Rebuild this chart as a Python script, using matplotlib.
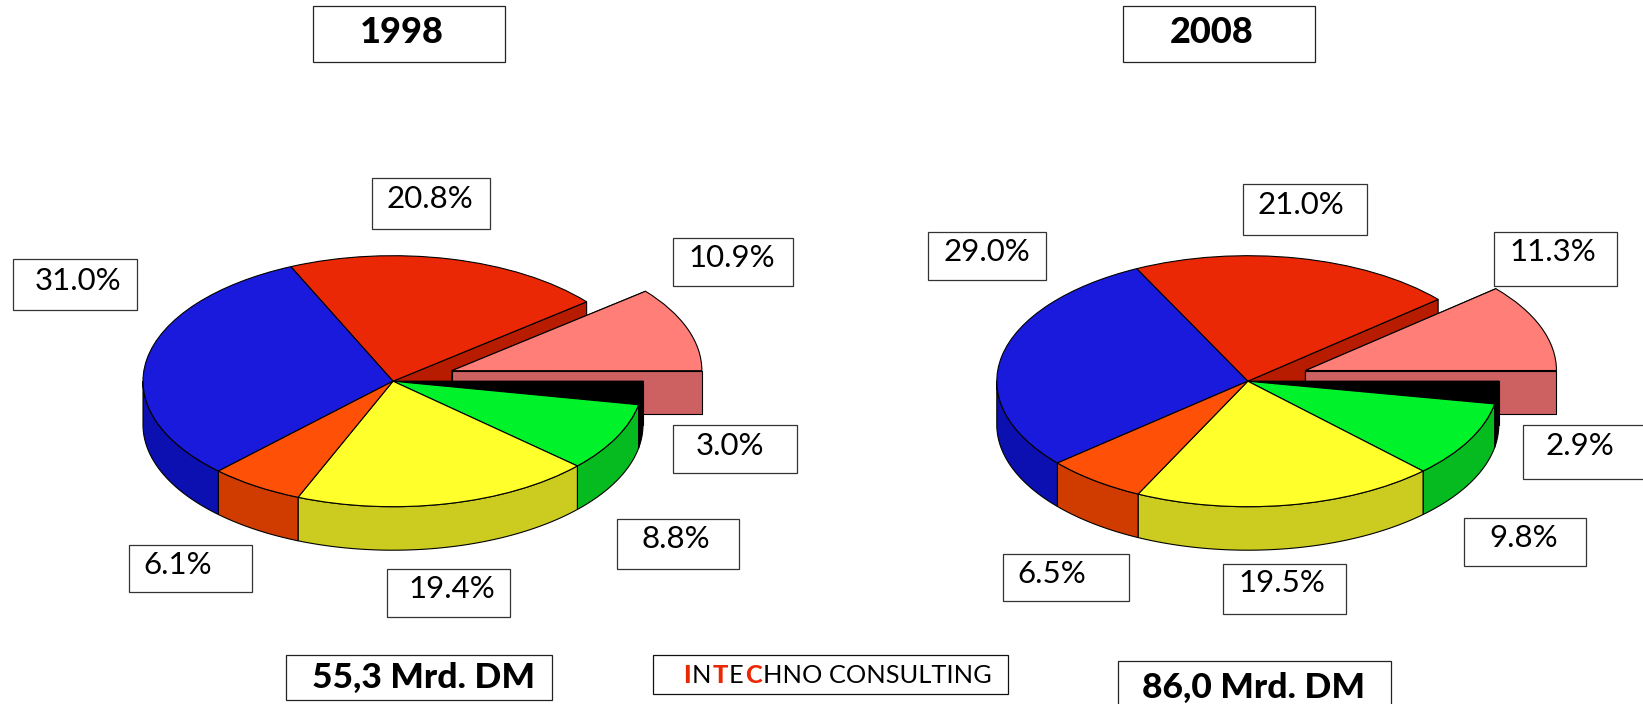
import numpy as np
import matplotlib
matplotlib.use("Agg")
import matplotlib.pyplot as plt
from matplotlib.patches import Polygon, Rectangle

# ---- data ----
segment_order = ["pink", "red", "blue", "orange", "yellow", "green", "black"]
values_1998 = [10.9, 20.8, 31.0, 6.1, 19.4, 8.8, 3.0]
values_2008 = [11.3, 21.0, 29.0, 6.5, 19.5, 9.8, 2.9]
years = ["1998", "2008"]
totals = ["55,3 Mrd. DM", "86,0 Mrd. DM"]
brand_parts = ["I", "N", "T", "E", "C", "HNO CONSULTING"]

# ---- styles ----
top_colors = ["#FF7F78", "#EB2805", "#1A1ADD", "#FF5008", "#FFFF2B", "#00F22B", "#000000"]
side_colors = ["#CD6060", "#B81C00", "#0D10B0", "#D03C00", "#CCCC20", "#05BB1F", "#000000"]
brand_colors = ["#EB2805", "#000000", "#EB2805", "#000000", "#EB2805", "#000000"]
brand_weights = ["black", "normal", "black", "normal", "black", "normal"]
draw_sequence = [1, 2, 0, 6, 5, 4, 3]
FONT = "Lato"
W, H = 1643, 704
EDGE = 0.8

# ---- layout in pixels ----
pies = [
    dict(values=values_1998, cx=393.0, cy=381.2, a=250.0, b=125.5, explode=0.25),
    dict(values=values_2008, cx=1247.8, cy=381.2, a=251.0, b=125.5, explode=0.245),
]
DEPTH_PX = 43.5
TEXT_DY = 2.2
# x0, x1, y0, y1 of the box, text centre x, y  (same order as the values)
label_boxes = [
    [(673, 793, 238.3, 285.6, 732, 256), (371.5, 490, 178.3, 229, 430, 197),
     (13, 137, 259, 309.7, 78.4, 278.3), (128.5, 252, 544.7, 592.4, 178, 562.7),
     (386.5, 510, 568.7, 616.7, 452, 586.7), (616.5, 738.5, 518.7, 568.7, 676, 537),
     (673, 797, 425.4, 473.4, 730, 444)],
    [(1494, 1617, 231.7, 285.7, 1553.3, 250), (1243, 1367, 184.4, 235, 1301.3, 203.3),
     (928.2, 1045.5, 231.7, 279.7, 987, 250), (1002.5, 1129.2, 553.7, 601.3, 1052, 571.7),
     (1222.5, 1346.2, 563.7, 613.7, 1282, 580.7), (1463.5, 1586, 517.7, 565.7, 1524, 536),
     (1523, 1650, 425.4, 479, 1579.6, 444)],
]
year_boxes = [(313, 504.5, 5.7, 62.3, 401.7, 30.7), (1123, 1314.5, 5.7, 62.3, 1211.7, 30.7)]
total_boxes = [(286, 551.5, 655, 700, 423, 675.7), (1118, 1391.3, 660.7, 712, 1254, 686)]
brand_box = (653, 1008, 655, 694)
brand_x0, brand_y = 683, 673

fig = plt.figure(figsize=(W / 100, H / 100), dpi=100, facecolor="white")


def draw_pie(p):
    xlim = (-1.05, 1.35)
    ylim = (-1.45, 1.1)
    left = p["cx"] + xlim[0] * p["a"]
    right = p["cx"] + xlim[1] * p["a"]
    bottom_px = p["cy"] - ylim[0] * p["b"]
    top_px = p["cy"] - ylim[1] * p["b"]
    ax = fig.add_axes([left / W, 1 - bottom_px / H, (right - left) / W, (bottom_px - top_px) / H])
    explode = [p["explode"]] + [0] * (len(p["values"]) - 1)
    wedges, _ = ax.pie(p["values"], colors=top_colors, explode=explode, startangle=0,
                       counterclock=True, radius=1.0,
                       wedgeprops=dict(edgecolor="black", linewidth=EDGE))
    ax.set_aspect("auto")
    ax.set_xlim(*xlim)
    ax.set_ylim(*ylim)
    ax.axis("off")
    d = DEPTH_PX / p["b"]
    n = len(wedges)
    for rank, i in enumerate(draw_sequence):
        w = wedges[i]
        cx, cy = w.center
        z = 2 + rank * 2
        w.set_zorder(z + 1)
        kw = dict(closed=True, facecolor=side_colors[i], edgecolor="black",
                  linewidth=EDGE, zorder=z, joinstyle="round")
        # flat cut walls beside the exploded slice (far one first)
        cuts = []
        if explode[i] or explode[(i + 1) % n]:
            cuts.append(w.theta2)
        if explode[i] or explode[(i - 1) % n]:
            cuts.append(w.theta1)
        for ang in cuts:
            ex, ey = cx + np.cos(np.radians(ang)), cy + np.sin(np.radians(ang))
            ax.add_patch(Polygon([(cx, cy), (ex, ey), (ex, ey - d), (cx, cy - d)], **kw))
        # outer curved wall: only the part that faces the viewer
        t0, t1 = max(w.theta1, 180.0), w.theta2
        if t1 > t0:
            th = np.radians(np.linspace(t0, t1, 80))
            xs = cx + np.cos(th)
            ys = cy + np.sin(th)
            pts = np.r_[np.c_[xs, ys], np.c_[xs[::-1], ys[::-1] - d]]
            ax.add_patch(Polygon(pts, **kw))


for p in pies:
    draw_pie(p)

ov = fig.add_axes([0, 0, 1, 1], facecolor="none")
ov.set_xlim(0, W)
ov.set_ylim(H, 0)
ov.axis("off")


def box(x0, x1, y0, y1, color="#333333"):
    ov.add_patch(Rectangle((x0, y0), x1 - x0, y1 - y0, facecolor="white",
                           edgecolor=color, linewidth=0.9, zorder=20))


for vals, boxes in zip([p["values"] for p in pies], label_boxes):
    for v, (x0, x1, y0, y1, tx, ty) in zip(vals, boxes):
        box(x0, x1, y0, y1)
        ov.text(tx, ty + TEXT_DY, f"{v:.1f}%", family=FONT, fontsize=22.5, ha="center", va="center",
                color="black", zorder=21)

for txt, (x0, x1, y0, y1, tx, ty) in zip(years, year_boxes):
    box(x0, x1, y0, y1, "#222222")
    ov.text(tx, ty + TEXT_DY, txt, family=FONT, weight="black", fontsize=26, ha="center", va="center", zorder=21)

for txt, (x0, x1, y0, y1, tx, ty) in zip(totals, total_boxes):
    box(x0, x1, y0, y1, "#222222")
    ov.text(tx, ty + TEXT_DY, txt, family=FONT, weight="black", fontsize=25.5, ha="center", va="center", zorder=21)

box(brand_box[0], brand_box[1], brand_box[2], brand_box[3], "#111111")
fig.canvas.draw()
renderer = fig.canvas.get_renderer()
x = brand_x0
for part, col, wt in zip(brand_parts, brand_colors, brand_weights):
    t = ov.text(x, brand_y + TEXT_DY, part, family=FONT, fontsize=18.3, color=col, weight=wt,
                ha="left", va="center", zorder=21)
    x += t.get_window_extent(renderer).width + 1.2

fig.savefig("out.png", dpi=100, facecolor="white")
